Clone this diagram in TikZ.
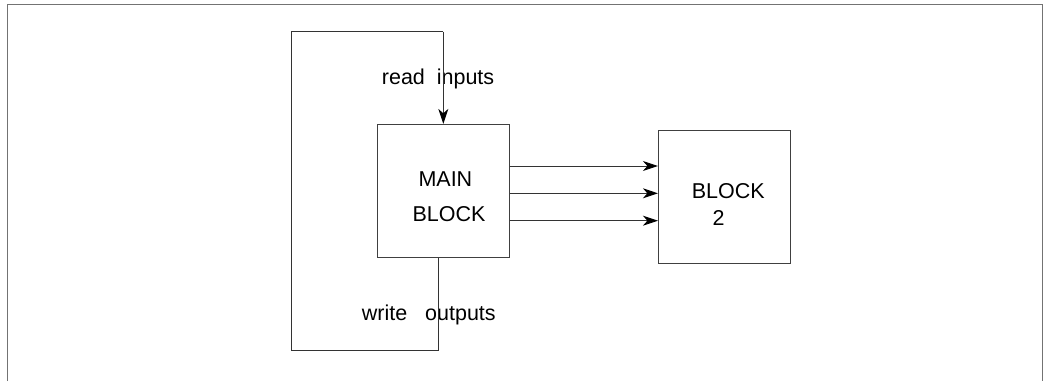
\documentclass[tikz,border=0pt]{standalone}
\usepackage{fontspec}
\setmainfont{Liberation Sans}
\usetikzlibrary{arrows.meta}
\begin{document}
\begin{tikzpicture}[x=1pt,y=-1pt,
  box/.style={draw=black!75,line width=0.9pt,inner sep=0pt,minimum width=131.7pt,minimum height=133pt},
  txt/.style={inner sep=0pt,anchor=base west,font=\fontsize{21.5}{26}\selectfont},
  wire/.style={draw=black!80,line width=0.9pt},
  arr/.style={wire,-{Stealth[length=15pt,width=10pt,inset=4.5pt,color=black]}},
  frame/.style={draw=black!55,line width=1pt}]
\useasboundingbox (0,0) rectangle (1045,381);
\draw[frame] (7,381) -- (7,4) -- (1042,4) -- (1042,381);
\node[box] (main) at (443.2,190.8) {};
\node[box] (blk) at (724.2,197) {};
\node[txt] (t1) at (418.3,186.7) {MAIN};
\node[txt] (t2) at (412.3,221.7) {BLOCK};
\node[txt] (t3) at (691.7,198.3) {BLOCK};
\node[txt] (t4) at (712.3,225.3) {2};
\node[txt] (rd) at (381.7,84.3) {read\ \ inputs};
\node[txt] (wr) at (361.7,320.7) {write\ \ \ outputs};
\coordinate (bl) at (291.7,350);
\coordinate (tl) at (291.7,31.7);
\draw[wire] (main.south -| 438.3,0) -- (438.3,350) -- (bl) -- (tl) -- (443.3,31.7);
\draw[arr] (443.3,31.7) -- (main.north -| 443.3,0);
\draw[arr] (main.east |- 0,166) -- (blk.west |- 0,166);
\draw[arr] (main.east |- 0,193.3) -- (blk.west |- 0,193.3);
\draw[arr] (main.east |- 0,220.7) -- (blk.west |- 0,220.7);
\end{tikzpicture}
\end{document}
